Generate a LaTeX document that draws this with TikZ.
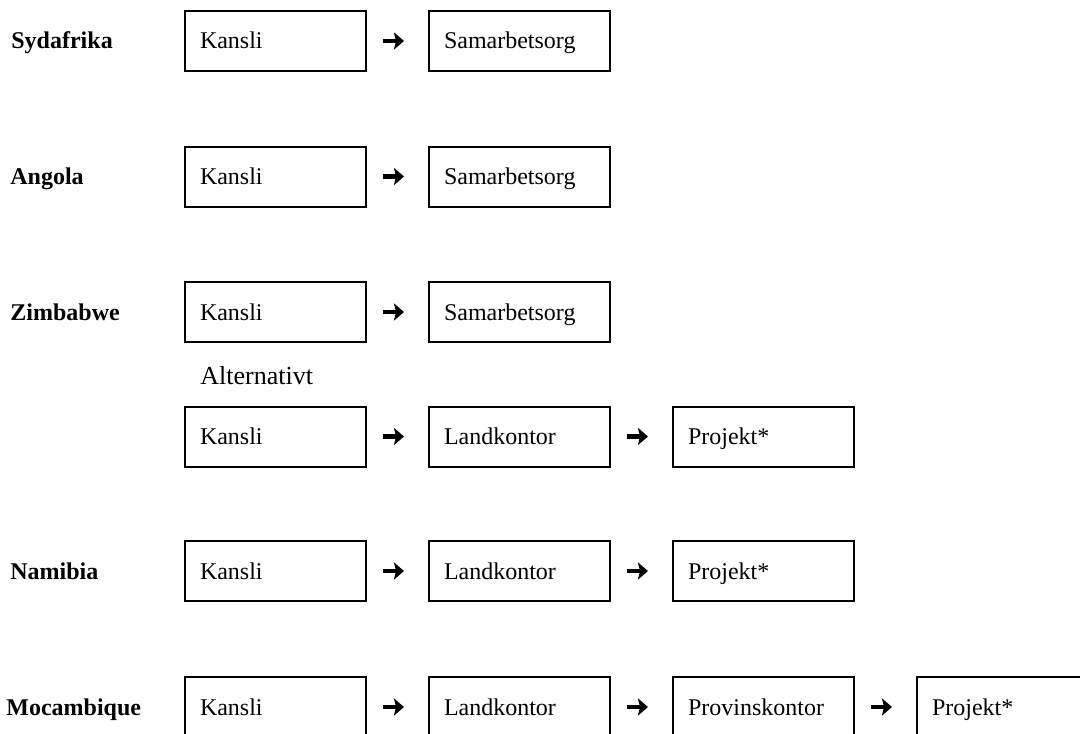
\documentclass[tikz,border=0pt]{standalone}
\usepackage{fontspec}
\setmainfont{Liberation Serif}
\usetikzlibrary{positioning}
\usetikzlibrary{arrows.meta}

\begin{document}
\begin{tikzpicture}[x=0.5pt,y=-0.5pt,node distance=30.5pt,
        country/.style={anchor=west,font=\bfseries,text height=9pt,text depth=1pt},
        office/.style={rectangle,draw=black,line width=1pt,minimum width=90.5pt,minimum height=30pt,
            text width=75.5pt,inner xsep=7.5pt,align=left,text height=9pt,text depth=1pt},
        arr/.style={line width=2.2pt,-{Stealth[length=5pt,width=8.5pt,inset=1pt]},shorten <=8pt,shorten >=12pt}
        ]
        \fontsize{12}{14}\selectfont
        \useasboundingbox (0,0) rectangle (1080,733);
        \node (sa) [country] at (3,41) {Sydafrika};
        \node (sa1) [office] at (275.5,41) {Kansli};
        \node (sa2) [office,right=of sa1] {Samarbetsorg};
        \draw[arr] (sa1) -- (sa2);
        \node (an) [country] at (2,176.5) {Angola};
        \node (an1) [office] at (275.5,176.5) {Kansli};
        \node (an2) [office,right=of an1] {Samarbetsorg};
        \draw[arr] (an1) -- (an2);
        \node (zi) [country] at (2,312) {Zimbabwe};
        \node (zi1) [office] at (275.5,312) {Kansli};
        \node (zi2) [office,right=of zi1] {Samarbetsorg};
        \draw[arr] (zi1) -- (zi2);
        \node (alt) [anchor=west,font=\fontsize{13}{15}\selectfont] at (192,376) {Alternativt};
        \node (al1) [office] at (275.5,436.5) {Kansli};
        \node (al2) [office,right=of al1] {Landkontor};
        \node (al3) [office,right=of al2] {Projekt*};
        \draw[arr] (al1) -- (al2);
        \draw[arr] (al2) -- (al3);
        \node (na) [country] at (2,571) {Namibia};
        \node (na1) [office] at (275.5,571) {Kansli};
        \node (na2) [office,right=of na1] {Landkontor};
        \node (na3) [office,right=of na2] {Projekt*};
        \draw[arr] (na1) -- (na2);
        \draw[arr] (na2) -- (na3);
        \node (mo) [country] at (-2,707) {Mocambique};
        \node (mo1) [office] at (275.5,707) {Kansli};
        \node (mo2) [office,right=of mo1] {Landkontor};
        \node (mo3) [office,right=of mo2] {Provinskontor};
        \node (mo4) [office,right=of mo3] {Projekt*};
        \draw[arr] (mo1) -- (mo2);
        \draw[arr] (mo2) -- (mo3);
        \draw[arr] (mo3) -- (mo4);
\end{tikzpicture}
\end{document}
